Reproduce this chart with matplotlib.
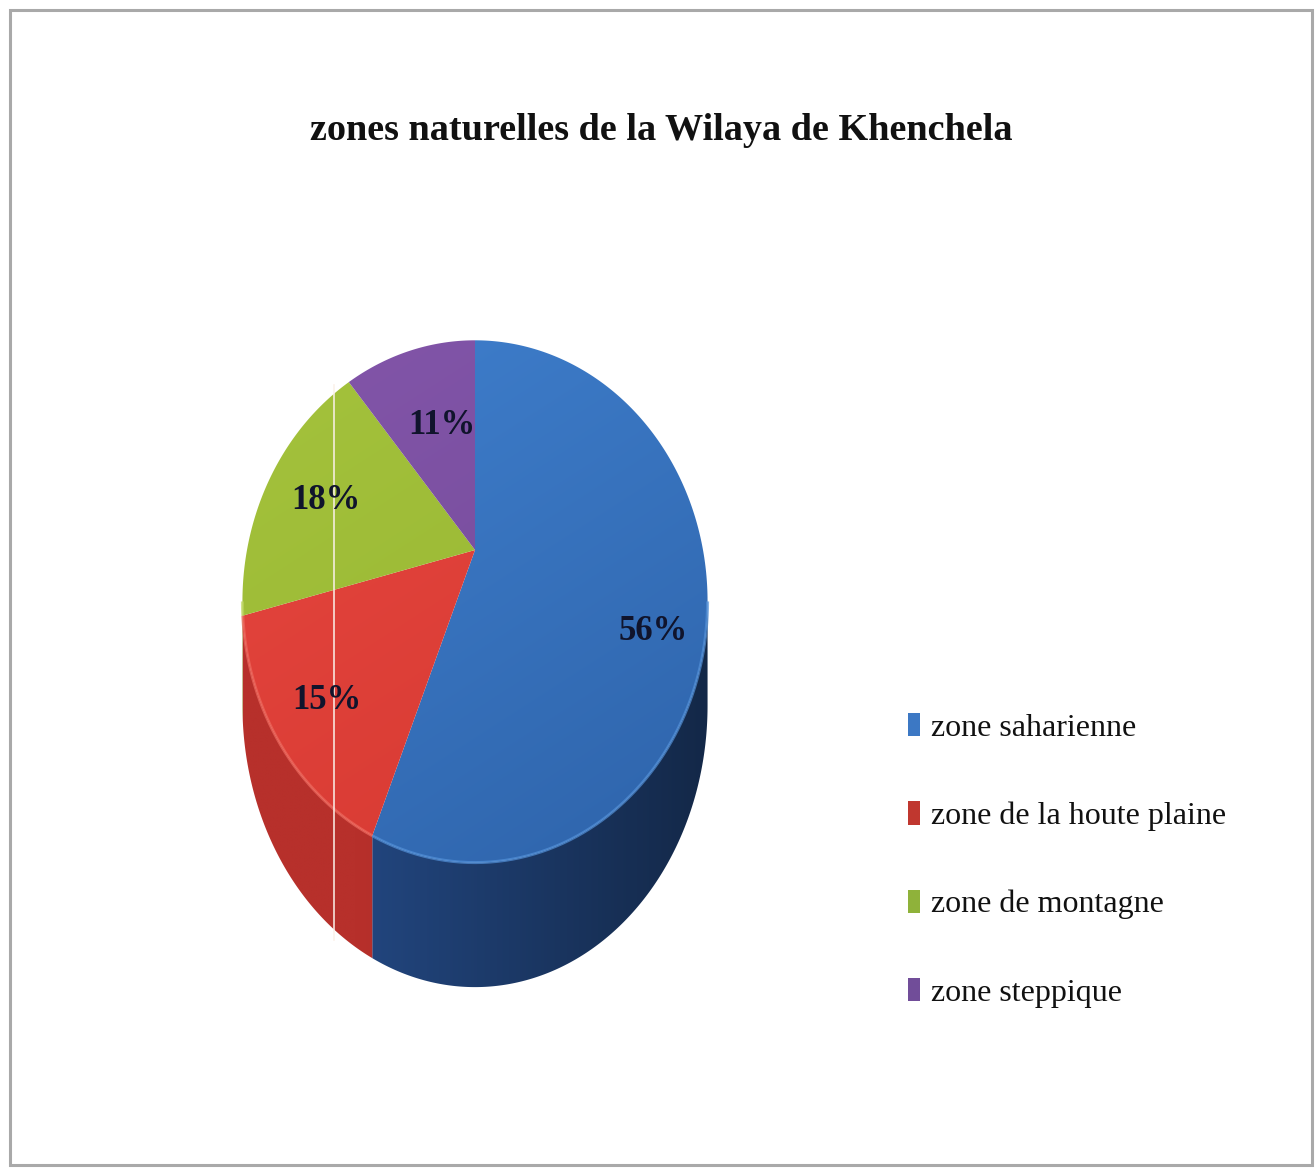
import numpy as np
import matplotlib
matplotlib.use("Agg")
import matplotlib.pyplot as plt
from matplotlib.patches import Polygon, Rectangle, Patch
from matplotlib.colors import to_rgb

# ---- data -------------------------------------------------------------
title = "zones naturelles de la Wilaya de Khenchela"
zones = ["zone saharienne", "zone de la houte plaine", "zone de montagne", "zone steppique"]
shares = [56, 15, 18, 11]
pct_labels = ["56%", "15%", "18%", "11%"]

# ---- styles -----------------------------------------------------------
top_light = ["#3f7fcd", "#e6463f", "#a4c23c", "#8255a9"]
top_dark = ["#2c60a6", "#d3372f", "#93b22f", "#704894"]
side_light = ["#22467f", "#b7302b", "#7d9a2a", "#5e3c80"]
side_dark = ["#132746", "#8f221f", "#5f7a1f", "#472c61"]
rim_colors = ["#5290d8", "#ee6a5f", "#bcd65c", "#9a72c0"]
legend_colors = ["#3c78c4", "#c0372f", "#8fb23a", "#714d99"]
serif = ["Liberation Serif", "DejaVu Serif"]
# label placement: radial fraction and pixel nudge (dx, dy) per slice
label_r = [0.78, 0.78, 0.78, 0.78]
label_nudge = [(-2, 44), (0, 6), (12, 8), (20, 36)]

W, H = 1316, 1169
fig = plt.figure(figsize=(W / 100, H / 100), dpi=100)
fig.patch.set_facecolor("white")
ax = fig.add_axes([0, 0, 1, 1])
ax.set_xlim(0, W)
ax.set_ylim(H, 0)
ax.axis("off")

# tilted disc seen in perspective
CX, CY = 475, 550      # projected centre of the top face
RX, RY = 228, 251      # radii of the disc
PERSP = 0.197          # perspective strength
DEPTH = 100            # thickness of the slab


def project(phi_deg, r=1.0, drop=0.0):
    """Angle measured clockwise from 12 o'clock -> screen position."""
    phi = np.radians(phi_deg)
    X = r * np.sin(phi)
    Y = -r * np.cos(phi)
    f = 1.0 / (1.0 - PERSP * Y)
    return CX + RX * X * f, CY + RY * Y * f + drop * f


# bounding box of the whole pie for shading
BX0, BX1, BY0, BY1 = 235, 720, 330, 1000
N = 300
gx, gy = np.meshgrid(np.linspace(0, 1, N), np.linspace(0, 1, N))


def shaded(verts, c1, c2, t, z):
    poly = Polygon(verts, closed=True, facecolor="none", edgecolor="none")
    ax.add_patch(poly)
    c1 = np.array(to_rgb(c1))
    c2 = np.array(to_rgb(c2))
    img = (1 - t)[..., None] * c1 + t[..., None] * c2
    im = ax.imshow(img, extent=(BX0, BX1, BY1, BY0), origin="upper",
                   aspect="auto", interpolation="bilinear", zorder=z)
    im.set_clip_path(poly)


t_top = np.clip(0.35 * gx + 0.75 * gy - 0.05, 0, 1)
t_side = np.clip((gx - 0.25) / 0.75, 0, 1)

total = float(sum(shares))
bounds = np.concatenate([[0.0], np.cumsum(shares) / total * 360.0])
front_lo = np.degrees(np.arccos(-PERSP))
front_hi = 360.0 - front_lo

for i, val in enumerate(shares):
    a0, a1 = bounds[i], bounds[i + 1]
    # outer wall (visible front part only)
    w0, w1 = max(a0, front_lo), min(a1, front_hi)
    if w1 > w0:
        ph = np.linspace(w0, w1, 200)
        tx, ty = project(ph)
        bx, by = project(ph, drop=DEPTH)
        verts = np.column_stack([np.concatenate([tx, bx[::-1]]),
                                 np.concatenate([ty, by[::-1]])])
        shaded(verts, side_light[i], side_dark[i], t_side, 2)
        ax.plot(tx, ty, color=rim_colors[i], lw=2.2, alpha=0.7, zorder=4,
                solid_capstyle="butt")
    # top face
    ph = np.linspace(a0, a1, 300)
    tx, ty = project(ph)
    verts = np.column_stack([np.concatenate([[CX], tx]),
                             np.concatenate([[CY], ty])])
    shaded(verts, top_light[i], top_dark[i], t_top, 3)

# percentage labels
for i, lab in enumerate(pct_labels):
    mid = 0.5 * (bounds[i] + bounds[i + 1])
    lx, ly = project(mid, r=label_r[i])
    dx, dy = label_nudge[i]
    ax.text(lx + dx, ly + dy, lab, ha="center", va="center", fontsize=25,
            fontweight="bold", family=serif, color="#10142c", zorder=6)

# thin light streak crossing the chart
ax.plot([334, 334], [385, 940], color="#fbf1ea", lw=1.3, alpha=0.85, zorder=5)

# title
fig.text(661 / W, 1 - 130 / H, title, ha="center", va="center",
         fontsize=27.5, fontweight="bold", family=serif, color="#111111")

# legend
handles = [Patch(facecolor=c, edgecolor="none") for c in legend_colors]
leg = fig.legend(handles, zones, loc="upper left",
                 bbox_to_anchor=(908 / W, 1 - 713 / H),
                 frameon=False, prop={"family": serif, "size": 23},
                 handlelength=0.36, handleheight=0.75, handletextpad=0.35,
                 labelspacing=1.83, borderpad=0, borderaxespad=0)
for txt in leg.get_texts():
    txt.set_color("#111111")

# outer frame
fig.patches.append(Rectangle((10 / W, 1 - 1165 / H), 1302 / W, 1155 / H,
                             transform=fig.transFigure, fill=False,
                             edgecolor="#a9a9a9", lw=2.2))

fig.savefig("out.png", dpi=100, facecolor="white")
